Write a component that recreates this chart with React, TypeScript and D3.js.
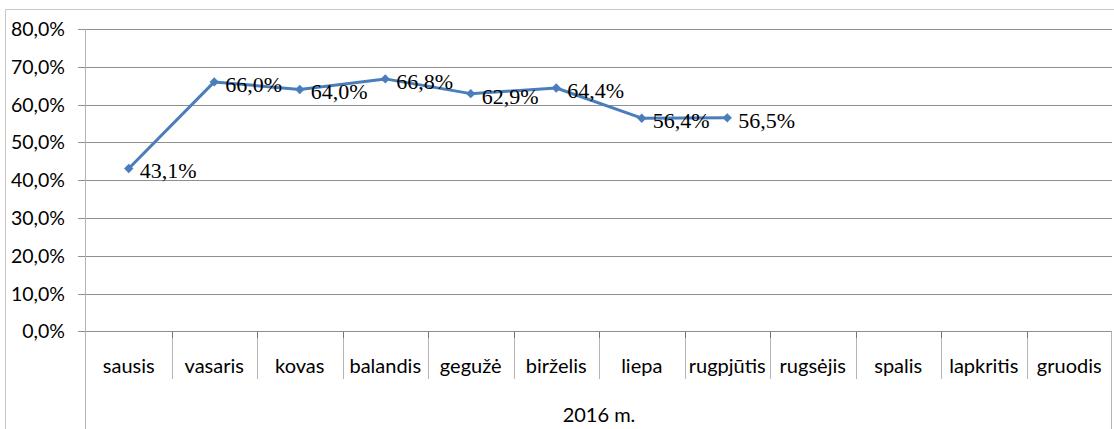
import React from 'react';
import * as d3 from 'd3';

// months of 2016 (Lithuanian)
const months = ['sausis', 'vasaris', 'kovas', 'balandis', 'gegužė', 'birželis', 'liepa', 'rugpjūtis', 'rugsėjis', 'spalis', 'lapkritis', 'gruodis'];
// share per month, % (only first 8 months have data)
const values = [43.1, 66.0, 64.0, 66.8, 62.9, 64.4, 56.4, 56.5];
const yTicks = [0, 10, 20, 30, 40, 50, 60, 70, 80];
const yearLabel = '2016 m.';

const W = 1114;
const H = 429;
const margin = { left: 86, right: 2, top: 29, plotBottom: 331.4 };

const fmt = (v: number) => v.toFixed(1).replace('.', ',') + '%';

export default function App() {
  const x = d3
    .scaleBand()
    .domain(months)
    .range([margin.left, W - margin.right])
    .padding(0);
  const y = d3.scaleLinear().domain([0, 80]).range([margin.plotBottom, margin.top]);

  const cx = (i: number) => (x(months[i]) as number) + x.bandwidth() / 2;

  const line = d3
    .line<number>()
    .x((_, i) => cx(i))
    .y((d) => y(d));

  // square turned 45deg -> Excel style diamond
  const diamond = d3.symbol().type(d3.symbolSquare).size(44)();
  const sans = 'Lato, "Open Sans", sans-serif';
  const serif = '"Liberation Serif", "Times New Roman", serif';
  const xEnd = W - margin.right;

  return (
    <svg width={W} height={H} style={{ position: 'absolute', left: 0, top: 0 }}>
      <rect x={0} y={0} width={W} height={H} fill="#fff" />
      {/* outer chart border */}
      <path d={`M5.5,${H} V9.5 H${W}`} fill="none" stroke="#c8c8c8" />

      {/* horizontal gridlines */}
      {yTicks.map((t) => (
        <g key={t}>
          <line x1={78} x2={xEnd} y1={Math.round(y(t)) + 0.5} y2={Math.round(y(t)) + 0.5} stroke="#8f8f8f" />
          <text x={65} y={y(t) + 7} textAnchor="end" fontFamily={sans} fontSize={19.5} fill="#000">
            {t.toFixed(1).replace('.', ',')}%
          </text>
        </g>
      ))}

      {/* y axis, extends through the category box */}
      <line x1={margin.left - 0.5} x2={margin.left - 0.5} y1={margin.top} y2={H} stroke="#b4b4b4" />
      <line x1={xEnd - 0.5} x2={xEnd - 0.5} y1={margin.plotBottom} y2={H} stroke="#b4b4b4" />

      {/* category separators */}
      {months.slice(1).map((m) => {
        const bx = Math.round(x(m) as number) + 0.5;
        return (
          <g key={m}>
            <line x1={bx} x2={bx} y1={margin.plotBottom} y2={379} stroke="#b4b4b4" />
            <line x1={bx} x2={bx} y1={margin.plotBottom} y2={338} stroke="#777" />
          </g>
        );
      })}

      {/* category labels */}
      {months.map((m, i) => (
        <text key={m} x={cx(i)} y={373} textAnchor="middle" fontFamily={sans} fontSize={20} fill="#000">
          {m}
        </text>
      ))}
      <text x={(margin.left + xEnd) / 2} y={422} textAnchor="middle" fontFamily={sans} fontSize={20} fill="#000">
        {yearLabel}
      </text>

      {/* series */}
      <path d={line(values) ?? ''} fill="none" stroke="#4a7ebb" strokeWidth={3} strokeLinejoin="round" />
      {values.map((v, i) => (
        <path key={i} d={diamond ?? ''} transform={`translate(${cx(i)},${y(v)}) rotate(45)`} fill="#4a7ebb" />
      ))}
      {values.map((v, i) => (
        <text key={'l' + i} x={cx(i) + 11} y={y(v) + 10} fontFamily={serif} fontSize={22} fill="#000">
          {fmt(v)}
        </text>
      ))}
    </svg>
  );
}
